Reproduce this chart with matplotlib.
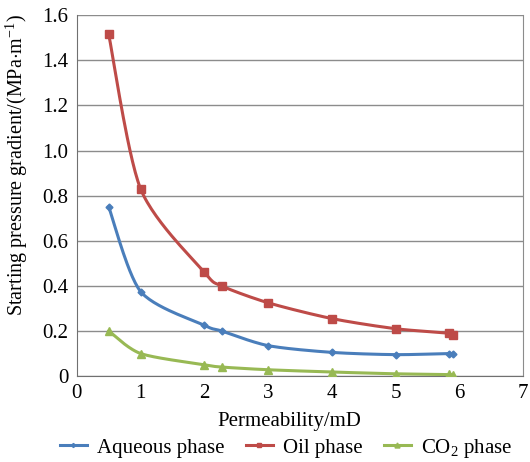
import numpy as np
import matplotlib
matplotlib.use('Agg')
import matplotlib.pyplot as plt

plt.rcParams['font.family'] = ['Liberation Serif', 'DejaVu Serif']
plt.rcParams['mathtext.fontset'] = 'custom'
plt.rcParams['mathtext.rm'] = 'Liberation Serif'

perm = [0.5, 1, 2, 2.27, 3, 4, 5, 5.83, 5.9]
aqueous = [0.75, 0.375, 0.225, 0.2, 0.135, 0.105, 0.095, 0.1, 0.1]
oil = [1.515, 0.83, 0.46, 0.4, 0.325, 0.255, 0.21, 0.19, 0.18]
co2 = [0.2, 0.1, 0.05, 0.04, 0.028, 0.018, 0.01, 0.007, 0.005]


def smooth(x, y, n=30):
    # catmull-rom style curve through the points, like excel smoothed lines
    x = np.asarray(x, float)
    y = np.asarray(y, float)
    px = np.concatenate([[x[0]], x, [x[-1]]])
    py = np.concatenate([[y[0]], y, [y[-1]]])
    xs, ys = [], []
    t = np.linspace(0, 1, n)
    for i in range(1, len(px) - 2):
        p0, p1, p2, p3 = [np.array([px[j], py[j]]) for j in range(i - 1, i + 3)]
        m1 = (p2 - p0) / 2 * 0.8
        m2 = (p3 - p1) / 2 * 0.8
        h00 = 2 * t**3 - 3 * t**2 + 1
        h10 = t**3 - 2 * t**2 + t
        h01 = -2 * t**3 + 3 * t**2
        h11 = t**3 - t**2
        pts = np.outer(h00, p1) + np.outer(h10, m1) + np.outer(h01, p2) + np.outer(h11, m2)
        xs.extend(pts[:, 0])
        ys.extend(pts[:, 1])
    return xs, ys


fig = plt.figure(figsize=(5.3, 4.62), dpi=100)
ax = fig.add_axes([0.145, 0.186, 0.842, 0.781])

series = [
    (aqueous, '#4a7ebb', 'D', 3.5, 'Aqueous phase'),
    (oil, '#be4b48', 's', 6, 'Oil phase'),
    (co2, '#98b954', '^', 6, 'CO$_2$ phase'),
]
handles = []
for vals, col, mk, ms, lab in series:
    sx, sy = smooth(perm, vals)
    ax.plot(sx, sy, color=col, lw=2.2, zorder=3)
    ax.plot(perm, vals, ls='none', marker=mk, ms=ms, color=col, zorder=4)
    h, = ax.plot([], [], color=col, lw=2.2, marker=mk, ms=ms * 0.6, label=lab)
    handles.append(h)

ax.set_xlim(0, 7)
ax.set_ylim(0, 1.6)
ax.set_xticks(range(0, 8))
ax.set_yticks(np.arange(0, 1.61, 0.2))
ax.set_yticklabels(['0'] + ['%.1f' % v for v in np.arange(0.2, 1.61, 0.2)])
ax.yaxis.grid(True, color='#8c8c8c', lw=1)
ax.set_axisbelow(True)
ax.spines['top'].set_visible(False)
ax.spines['right'].set_color('#8c8c8c')
ax.spines['left'].set_color('#707070')
ax.spines['bottom'].set_color('#707070')
ax.tick_params(length=0, labelsize=15, pad=6)

ax.set_xlabel('Permeability/mD', fontsize=15)
ax.xaxis.set_label_coords(0.475, -0.1)
ax.set_ylabel('Starting pressure gradient/(MPa$\\cdot$m$^{-1}$)', fontsize=14.5)
ax.yaxis.set_label_coords(-0.104, 0.585)
fig.legend(handles=handles, loc='center', bbox_to_anchor=(0.54, 0.03), ncol=3, frameon=False,
           fontsize=15, handlelength=1.3, columnspacing=1.0, handletextpad=0.5,
           borderaxespad=0, borderpad=0)

fig.savefig('out.png', dpi=100)
